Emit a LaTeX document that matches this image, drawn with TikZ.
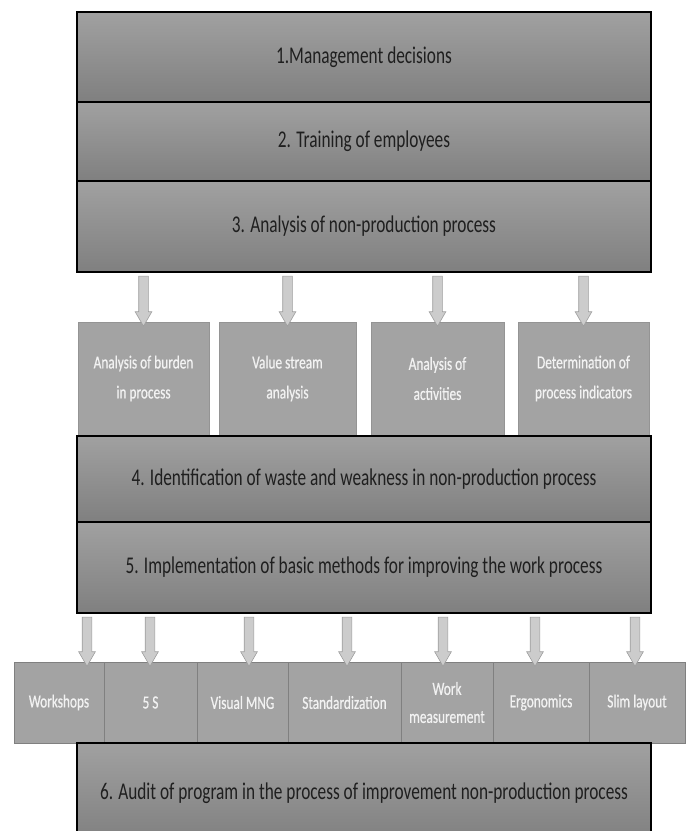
\documentclass[tikz,border=0pt]{standalone}
\usepackage{fontspec}
\setmainfont{Carlito}[FakeStretch=0.72]
\newfontfamily\boxfont{Carlito}[FakeStretch=0.72, FakeBold=0.6]
\usepackage{tikz}
\usetikzlibrary{positioning,shapes.arrows}

\begin{document}
\begin{tikzpicture}[x=1pt, y=-1pt,
  stepbox/.style={draw=black, line width=1.4pt, outer sep=0pt, top color=black!37, bottom color=black!50, minimum width=574pt, inner sep=0pt, text=black!88, font=\fontsize{24}{26}\selectfont},
  subbox/.style={draw=black!42, line width=0.7pt, outer sep=0pt, fill=black!36, inner sep=0pt, align=center, text=white!95!black, font=\boxfont\fontsize{18.5}{30}\selectfont},
  blockarr/.style={single arrow, draw=black!38, fill=black!20, line width=0.6pt, shape border rotate=270, inner sep=4.5pt, minimum width=0pt, single arrow head extend=3.5pt, single arrow tip angle=60}]
\useasboundingbox (0,0) rectangle (688,831);

% main steps
\node[stepbox, minimum height=90pt] (m1) at (364,57) {1.Management decisions};
\node[stepbox, minimum height=79pt, below=0pt of m1] (m2) {2. Training of employees};
\node[stepbox, minimum height=91pt, below=0pt of m2] (m3) {3. Analysis of non-production process};

% analysis of the process
\foreach \i/\x/\w/\lbl in {1/143.5/131/{Analysis of burden\\in process}, 2/287.5/137/{Value stream\\analysis}, 3/437.5/133/{Analysis of\\activities}, 4/583.5/131/{Determination of\\process indicators}}{
  \node[subbox, minimum width=\w pt, minimum height=113pt] (a\i) at (\x,378.5) {\lbl};
  \path (m3.south -| a\i.north) -- node[blockarr, minimum height=50pt] {} (a\i.north);
}

\node[stepbox, minimum height=86pt] (m4) at (364,479) {4. Identification of waste and weakness in non-production process};
\node[stepbox, minimum height=91pt, below=0pt of m4] (m5) {5. Implementation of basic methods for improving the work process};

% methods
\foreach \i/\x/\w/\ax/\lbl in {1/59/90/87/Workshops, 2/150.5/93/150/5 S, 3/242.5/91/249/Visual MNG, 4/344.5/113/347/Standardization, 5/447/92/443/{Work\\measurement}, 6/541/96/535/Ergonomics, 7/637/96/635/Slim layout}{
  \node[subbox, draw=black!50, minimum width=\w pt, minimum height=81pt, font=\boxfont\fontsize{18.5}{28}\selectfont] (w\i) at (\x,702.5) {\lbl};
  \coordinate (t\i) at (\ax,613);
  \path (t\i) -- node[blockarr, minimum height=49pt] {} (t\i |- w\i.north);
}

\node[stepbox, minimum height=100pt] (m6) at (364,793) {6. Audit of program in the process of improvement non-production process};

\end{tikzpicture}
\end{document}
